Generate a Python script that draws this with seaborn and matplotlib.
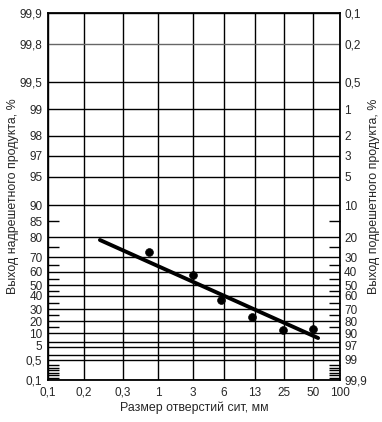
import numpy as np
import seaborn as sns
import matplotlib
matplotlib.use('Agg')
import matplotlib.pyplot as plt
from matplotlib.transforms import ScaledTranslation

# measured points: sieve opening (mm) vs oversize yield (%)
sieve_size = [0.73, 3, 5.6, 12, 24.5, 50]
oversize = [72.5, 57.7, 37, 23.3, 12.5, 13.3]

# fitted straight line (two ends)
fit_size = [0.236, 57]
fit_oversize = [78.5, 7.2]

# x axis grid values and labels
x_ticks = [0.1, 0.2, 0.3, 1, 3, 6, 13, 25, 50, 100]
x_labels = ['0,1', '0,2', '0,3', '1', '3', '6', '13', '25', '50', '100']

# y axis grid values (oversize, %) with labels left (oversize) and right (undersize)
y_grid = [0.1, 0.5, 1, 3, 5, 10, 20, 30, 40, 50, 60, 70, 80, 90, 95, 97, 98, 99, 99.5, 99.8, 99.9]
left_labels = ['0,1', '0,5', '', '', '5', '10', '20', '30', '40', '50', '60', '70', '80',
               '90', '95', '97', '98', '99', '99,5', '99,8', '99,9']
right_labels = ['99,9', '', '99', '97', '', '90', '80', '70', '60', '50', '40', '30', '20',
                '10', '5', '3', '2', '1', '0,5', '0,2', '0,1']

# short ticks
y_short = [0.15, 0.2, 0.25, 0.3, 0.35, 0.4, 15, 25, 35, 45, 55, 65, 75, 85]
y_short_labels = ['', '', '', '', '', '', '', '', '', '', '', '', '', '85']

# nomogram scale calibration (sheet position of each grid line)
x_cal = [48, 84, 123, 158, 193, 224, 255, 284, 313, 340]
y_cal = [380, 360, 355, 347, 342, 333, 321, 309, 296, 285, 272, 257, 237, 205, 177, 156, 136, 109, 82, 44, 13]

lx = np.log10(x_ticks)
px = np.array(x_cal, dtype=float)
yv = np.array(y_grid)
py = -np.array(y_cal, dtype=float)


def x_fwd(x):
    return np.interp(np.log10(np.maximum(x, 1e-9)), lx, px)


def x_inv(p):
    return 10 ** np.interp(p, px, lx)


def y_fwd(v):
    return np.interp(v, yv, py)


def y_inv(p):
    return np.interp(p, py, yv)


sns.set_style('white')
plt.rcParams['font.family'] = ['Liberation Sans', 'DejaVu Sans']
plt.rcParams['font.size'] = 8.5

fig = plt.figure(figsize=(3.82, 4.22), dpi=100)
ax = fig.add_axes([48 / 382, 1 - 380 / 422, 292 / 382, 367 / 422])
ax.set_xscale('function', functions=(x_fwd, x_inv))
ax.set_yscale('function', functions=(y_fwd, y_inv))

sns.lineplot(x=fit_size, y=fit_oversize, color='black', linewidth=2.8, ax=ax, sort=False)
sns.scatterplot(x=sieve_size, y=oversize, color='black', s=32, edgecolor='black', ax=ax, zorder=5)

ax.set_xlim(0.1, 100)
ax.set_ylim(0.1, 99.9)

ax.set_xticks(x_ticks)
ax.set_xticklabels(x_labels)
ax.set_yticks(y_grid)
ax.set_yticklabels(left_labels)
ax.set_yticks(y_short, minor=True)
ax.set_yticklabels(y_short_labels, minor=True)
ax.xaxis.set_minor_locator(matplotlib.ticker.NullLocator())

ax.grid(True, which='major', color='black', linewidth=1.0)
for t, v in zip(ax.yaxis.get_major_ticks(), y_grid):
    if v == 99.8:
        t.gridline.set_color('#666666')

ax.tick_params(axis='both', which='major', length=0, pad=4, labelsize=8.5)
ax.tick_params(axis='x', which='major', pad=5)
ax.tick_params(axis='y', which='minor', left=True, right=False, direction='in',
               length=8, width=1.0, color='black', labelsize=8.5, pad=4)
for s in ax.spines.values():
    s.set_color('black')
    s.set_linewidth(1.3)

ax2 = ax.twinx()
ax2.set_yscale('function', functions=(y_fwd, y_inv))
ax2.set_ylim(0.1, 99.9)
ax2.set_yticks(y_grid)
ax2.set_yticklabels(right_labels)
ax2.set_yticks(y_short, minor=True)
ax2.set_yticklabels([''] * len(y_short), minor=True)
ax2.tick_params(axis='y', which='major', length=0, pad=3, labelsize=8.5)
ax2.tick_params(axis='y', which='minor', right=True, left=False, direction='in',
                length=8, width=1.0, color='black')
for s in ax2.spines.values():
    s.set_visible(False)

# crowded bottom labels are nudged as on the original sheet
shift = {('l', 5): -4, ('r', 3): 2, ('r', 1): -4}
for side, axis_ in (('l', ax), ('r', ax2)):
    for lab, v in zip(axis_.get_yticklabels(), y_grid):
        if (side, v) in shift:
            lab.set_transform(lab.get_transform() +
                              ScaledTranslation(0, shift[(side, v)] / 100, fig.dpi_scale_trans))

ax.set_xlabel('Размер отверстий сит, мм', fontsize=8.9, labelpad=2)
ax.set_ylabel('Выход надрешетного продукта, %', fontsize=8.9)
ax2.set_ylabel('Выход подрешетного продукта, %', fontsize=8.9)
ax.yaxis.set_label_coords((19 - 48) / 292, 0.5)
ax2.yaxis.set_label_coords((368 - 48) / 292, 0.5)

fig.savefig('out.png', dpi=100)
